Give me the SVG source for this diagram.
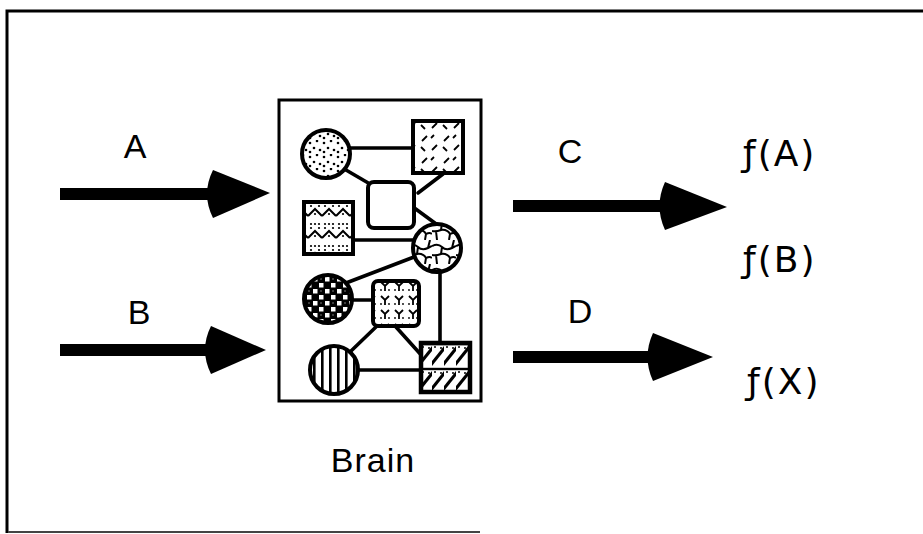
<svg xmlns="http://www.w3.org/2000/svg" width="923" height="534" viewBox="0 0 923 534">
  <style>
    .lbl { font-family: "Liberation Sans", Arial, sans-serif; font-size: 34px; fill: #000; }
    .fn { font-family: "DejaVu Sans", "Liberation Sans", sans-serif; font-size: 36px; letter-spacing: 2px; fill: #000; }
    .link { stroke: #000; stroke-width: 3.6; fill: none; stroke-linecap: round; }
    .node { stroke: #000; stroke-width: 4; }
    .shaft { stroke: #000; stroke-width: 12; stroke-linecap: butt; }
  </style>
  <defs>
    <!-- stipple -->
    <pattern id="pDots" patternUnits="userSpaceOnUse" width="14" height="14">
      <rect width="14" height="14" fill="#fff"/>
      <circle cx="2" cy="3" r="1.3" fill="#000"/>
      <circle cx="9" cy="1" r="1.3" fill="#000"/>
      <circle cx="6" cy="8" r="1.3" fill="#000"/>
      <circle cx="12" cy="10" r="1.3" fill="#000"/>
      <circle cx="2" cy="12" r="1.3" fill="#000"/>
    </pattern>
    <!-- scattered short dashes -->
    <pattern id="pDash" patternUnits="userSpaceOnUse" width="22" height="22">
      <rect width="22" height="22" fill="#fff"/>
      <path d="M4 9 L9 4 M14 18 L19 13 M13 6 L16 3 M3 15 L7 19" stroke="#000" stroke-width="1.8"/>
    </pattern>
    <!-- chevrons with dots -->
    <pattern id="pZig" patternUnits="userSpaceOnUse" width="14" height="22">
      <rect width="14" height="22" fill="#fff"/>
      <path d="M0 18 L7 11 L14 18" stroke="#000" stroke-width="2" fill="none"/>
      <circle cx="3" cy="4" r="1.1" fill="#000"/>
      <circle cx="7" cy="4" r="1.1" fill="#000"/>
      <circle cx="11" cy="4" r="1.1" fill="#000"/>
      <circle cx="3" cy="8" r="1.1" fill="#000"/>
      <circle cx="11" cy="8" r="1.1" fill="#000"/>
      <circle cx="7" cy="16" r="1.1" fill="#000"/>
    </pattern>
    <!-- cracked mesh -->
    <pattern id="pMesh" patternUnits="userSpaceOnUse" width="24" height="24">
      <rect width="24" height="24" fill="#fff"/>
      <path d="M0 6 Q6 3 10 7 T20 8 L24 6 M10 7 L9 14 Q4 16 0 15 M9 14 Q15 13 18 18 L17 24 M18 18 Q22 16 24 18 M20 8 L22 0 M4 15 L5 24" stroke="#000" stroke-width="2" fill="none"/>
    </pattern>
    <!-- dark checker -->
    <pattern id="pCheck" patternUnits="userSpaceOnUse" width="12" height="12">
      <rect width="12" height="12" fill="#000"/>
      <rect x="1" y="1" width="4.5" height="4.5" fill="#fff"/>
      <rect x="7" y="7" width="4.5" height="4.5" fill="#fff"/>
      <circle cx="9" cy="3" r="0.8" fill="#888"/>
    </pattern>
    <!-- little forks -->
    <pattern id="pFork" patternUnits="userSpaceOnUse" width="14" height="14">
      <rect width="14" height="14" fill="#fff"/>
      <path d="M3 2 L7 6 L11 2 M7 6 L7 11" stroke="#000" stroke-width="1.8" fill="none"/>
      <circle cx="3" cy="10" r="0.9" fill="#000"/>
      <circle cx="11" cy="10" r="0.9" fill="#000"/>
    </pattern>
    <!-- vertical bars -->
    <pattern id="pBars" patternUnits="userSpaceOnUse" width="8" height="8" x="1">
      <rect width="8" height="8" fill="#fff"/>
      <rect x="0" width="2.6" height="8" fill="#000"/>
    </pattern>
    <!-- diagonal hatching in bands -->
    <pattern id="pHatch" patternUnits="userSpaceOnUse" width="12" height="25" y="342">
      <rect width="12" height="25" fill="#fff"/>
      <path d="M-2 24 L14 4" stroke="#000" stroke-width="3"/>
      <path d="M0 2 L12 2" stroke="#000" stroke-width="2.4"/>
      <circle cx="3" cy="5" r="1" fill="#000"/>
      <circle cx="9" cy="6" r="1" fill="#000"/>
    </pattern>
  </defs>

  <rect width="923" height="534" fill="#fff"/>

  <!-- outer frame -->
  <g id="frame">
    <path d="M7 533 L7 11 L923 11" stroke="#000" stroke-width="3" fill="none"/>
    <path d="M8 532 L480 532" stroke="#444" stroke-width="2" fill="none"/>
  </g>

  <!-- input / output arrows -->
  <g id="connectors">
    <g id="arrowA">
      <line class="shaft" x1="60" y1="194" x2="214" y2="194"/>
      <path d="M213 170 Q201 194 213 218 L270 193 Z" fill="#000"/>
    </g>
    <g id="arrowB">
      <line class="shaft" x1="60" y1="350" x2="212" y2="350"/>
      <path d="M211 326 Q199 350 211 374 L266 350 Z" fill="#000"/>
    </g>
    <g id="arrowC">
      <line class="shaft" x1="513" y1="206" x2="667" y2="206"/>
      <path d="M665 182 Q654 206 665 230 L727 207 Z" fill="#000"/>
    </g>
    <g id="arrowD">
      <line class="shaft" x1="513" y1="357" x2="655" y2="357"/>
      <path d="M653 333 Q642 357 653 381 L713 357 Z" fill="#000"/>
    </g>

    <!-- links inside the brain -->
    <g id="links">
      <line class="link" x1="349" y1="148" x2="413" y2="148"/>
      <line class="link" x1="346" y1="170" x2="370" y2="184"/>
      <line class="link" x1="443" y1="174" x2="418" y2="193"/>
      <line class="link" x1="413" y1="207" x2="443" y2="229"/>
      <line class="link" x1="353" y1="240" x2="414" y2="240"/>
      <line class="link" x1="414" y1="257" x2="346" y2="283"/>
      <line class="link" x1="440" y1="271" x2="440" y2="343"/>
      <line class="link" x1="351" y1="300" x2="373" y2="300"/>
      <line class="link" x1="378" y1="325" x2="350" y2="352"/>
      <line class="link" x1="396" y1="327" x2="423" y2="357"/>
      <line class="link" x1="357" y1="370" x2="421" y2="370"/>
    </g>
  </g>

  <!-- labels -->
  <g id="labels">
    <text class="lbl" x="135" y="158" text-anchor="middle">A</text>
    <text class="lbl" x="139" y="324" text-anchor="middle">B</text>
    <text class="lbl" x="570" y="163" text-anchor="middle">C</text>
    <text class="lbl" x="580" y="323" text-anchor="middle">D</text>
  </g>

  <g id="outputs">
    <text class="fn" x="743" y="166">ƒ(A)</text>
    <text class="fn" x="743" y="272">ƒ(B)</text>
    <text class="fn" x="747" y="394">ƒ(X)</text>
  </g>

  <!-- brain container -->
  <g id="brain">
    <rect x="279" y="100" width="202" height="301" fill="none" stroke="#000" stroke-width="3"/>
    <text class="lbl" x="373" y="472" text-anchor="middle" letter-spacing="1">Brain</text>
  </g>

  <g id="n-dots"><circle class="node" cx="326" cy="154" r="24" fill="url(#pDots)"/></g>
  <g id="n-dash"><rect class="node" x="413" y="121" width="50" height="52" fill="url(#pDash)"/></g>
  <g id="n-plain"><rect class="node" x="368" y="182" width="46" height="46" rx="6" fill="#fff"/></g>
  <g id="n-zig"><rect class="node" x="304" y="202" width="49" height="52" fill="url(#pZig)"/></g>
  <g id="n-mesh"><circle class="node" cx="437" cy="248" r="24" fill="url(#pMesh)"/></g>
  <g id="n-check"><circle class="node" cx="328" cy="299" r="24" fill="url(#pCheck)"/></g>
  <g id="n-fork"><rect class="node" x="373" y="281" width="46" height="45" rx="5" fill="url(#pFork)"/></g>
  <g id="n-bars"><circle class="node" cx="334" cy="370" r="24" fill="url(#pBars)"/></g>
  <g id="n-hatch"><rect x="421" y="343" width="49" height="49" fill="url(#pHatch)" stroke="#000" stroke-width="4.5"/></g>
</svg>
